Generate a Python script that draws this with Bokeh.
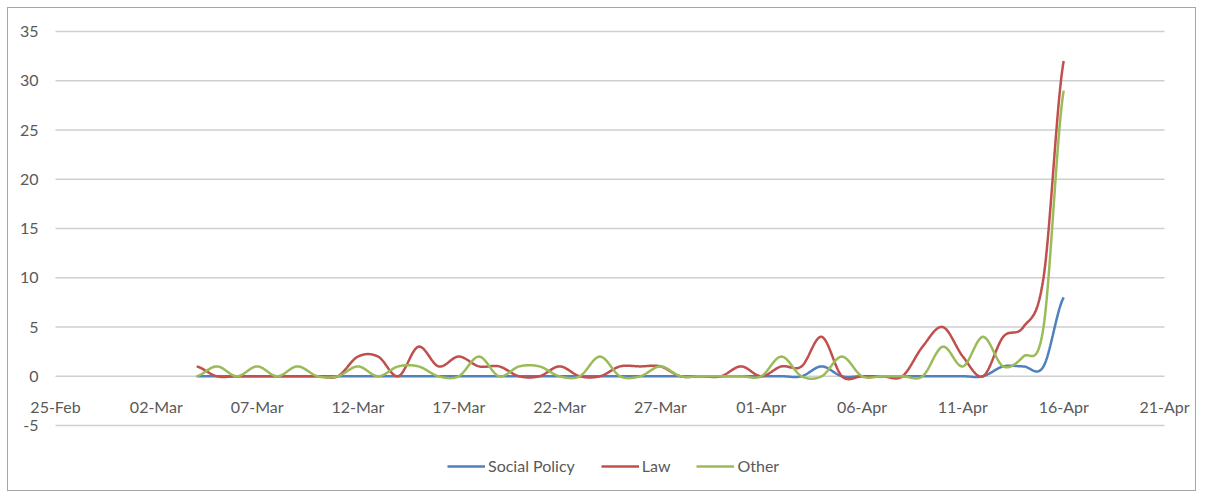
import numpy as np
import pandas as pd
from bokeh.plotting import figure
from bokeh.models import (Range1d, Legend, LegendItem, ColumnDataSource, LabelSet)
from bokeh.core.properties import value
from bokeh.embed import file_html
from bokeh.resources import INLINE

# ---- data (daily counts, 04-Mar .. 16-Apr) ----
dates = pd.date_range("2019-03-04", "2019-04-16", freq="D")
social_policy = [0, 0, 0, 0, 0, 0, 0, 0, 0, 0,
                 0, 0, 0, 0, 0, 0, 0, 0, 0, 0,
                 0, 0, 0, 0, 0, 0, 0, 0, 0, 0,
                 0, 1, 0, 0, 0, 0, 0, 0, 0, 0,
                 1, 1, 1, 8]
law = [1, 0, 0, 0, 0, 0, 0, 0, 2, 2,
       0, 3, 1, 2, 1, 1, 0, 0, 1, 0,
       0, 1, 1, 1, 0, 0, 0, 1, 0, 1,
       1, 4, 0, 0, 0, 0, 3, 5, 2, 0,
       4, 5, 10, 32]
other = [0, 1, 0, 1, 0, 1, 0, 0, 1, 0,
         1, 1, 0, 0, 2, 0, 1, 1, 0, 0,
         2, 0, 0, 1, 0, 0, 0, 0, 0, 2,
         0, 0, 2, 0, 0, 0, 0, 3, 1, 4,
         1, 2, 5, 29]
series_names = ["Social Policy", "Law", "Other"]
series_colors = ["#4F81BD", "#C0504D", "#9BBB59"]
tick_dates = pd.date_range("2019-02-25", "2019-04-21", freq="5D")
tick_labels = [d.strftime("%d-%b") for d in tick_dates]
y_ticks = [-5, 0, 5, 10, 15, 20, 25, 30, 35]
y_tick_labels = [str(v) for v in y_ticks]

# ---- layout constants (pixels, figure coordinates) ----
FONT = "Lato"
TXT = "#595959"
GRID = "#cfcfcf"
W, H = 1189, 484
B_LEFT, B_RIGHT, B_TOP, B_BOTTOM = 2, 2, 2, 3
AXIS_LEFT_PX, AXIS_RIGHT_PX = 47, 1156   # first / last date tick
AXIS_TOP_PX, AXIS_BOTTOM_PX = 23, 417    # top (35) / bottom (-5) value gridline


def to_ms(d):
    return np.asarray(pd.DatetimeIndex(d).values.astype("datetime64[ms]").astype(np.int64), dtype=float)


def smooth(xv, yv, n=24):
    """Excel-like smoothed line (Catmull-Rom through the data points)."""
    xv = np.asarray(xv, float)
    yv = np.asarray(yv, float)
    yp = np.concatenate([[yv[0]], yv, [yv[-1]]])
    t = np.linspace(0, 1, n, endpoint=False)
    h00 = 2 * t**3 - 3 * t**2 + 1
    h10 = t**3 - 2 * t**2 + t
    h01 = -2 * t**3 + 3 * t**2
    h11 = t**3 - t**2
    xs, ys = [], []
    for i in range(len(yv) - 1):
        y0, y1, y2, y3 = yp[i], yp[i + 1], yp[i + 2], yp[i + 3]
        m1 = (y2 - y0) / 2.0
        m2 = (y3 - y1) / 2.0
        ys.append(h00 * y1 + h10 * m1 + h01 * y2 + h11 * m2)
        xs.append(xv[i] + t * (xv[i + 1] - xv[i]))
    xs.append([xv[-1]])
    ys.append([yv[-1]])
    return np.concatenate(xs), np.concatenate(ys)


x_ms = to_ms(dates)
ticks_ms = to_ms(tick_dates)

# frame spans nearly the whole figure so that edge labels are not clipped
ms_per_px = (ticks_ms[-1] - ticks_ms[0]) / (AXIS_RIGHT_PX - AXIS_LEFT_PX)
x_start = ticks_ms[0] - (AXIS_LEFT_PX - B_LEFT) * ms_per_px
x_end = ticks_ms[-1] + ((W - B_RIGHT) - AXIS_RIGHT_PX) * ms_per_px
u_per_px = (y_ticks[-1] - y_ticks[0]) / (AXIS_BOTTOM_PX - AXIS_TOP_PX)
y_end = y_ticks[-1] + (AXIS_TOP_PX - B_TOP) * u_per_px
y_start = y_ticks[0] - ((H - B_BOTTOM) - AXIS_BOTTOM_PX) * u_per_px

p = figure(width=W, height=H,
           x_range=Range1d(x_start, x_end), y_range=Range1d(y_start, y_end),
           x_axis_location=None, y_axis_location=None,
           output_backend="svg", toolbar_location=None,
           min_border_left=B_LEFT, min_border_right=B_RIGHT, min_border_top=B_TOP,
           min_border_bottom=B_BOTTOM)
p.styles = {"border": "1px solid #a6a6a6", "margin-left": "7px", "margin-top": "7px"}
p.outline_line_color = None
p.background_fill_color = "white"
p.border_fill_color = "white"
for g in list(p.grid):
    g.visible = False
    g.grid_line_color = None

# horizontal gridlines spanning the date axis (the 0 line doubles as the axis line)
gsrc = ColumnDataSource(dict(x0=[ticks_ms[0]] * len(y_ticks), x1=[ticks_ms[-1]] * len(y_ticks),
                             y=y_ticks))
p.segment(x0="x0", y0="y", x1="x1", y1="y", source=gsrc, line_color=GRID, line_width=1.5)

# value-axis labels
ysrc = ColumnDataSource(dict(x=[ticks_ms[0]] * len(y_ticks), y=y_ticks, text=y_tick_labels))
p.add_layout(LabelSet(x="x", y="y", text="text", source=ysrc, x_offset=-17,
                      text_align="right", text_baseline="middle",
                      text_font=value(FONT), text_font_size="16px", text_color=TXT))

# date-axis labels, hanging below the 0 line
xsrc = ColumnDataSource(dict(x=ticks_ms, y=[0.0] * len(ticks_ms), text=tick_labels))
p.add_layout(LabelSet(x="x", y="y", text="text", source=xsrc,
                      y_offset=-21, text_align="center", text_baseline="top",
                      text_font=value(FONT), text_font_size="16px", text_color=TXT))

items = []
for name, vals, col in zip(series_names, [social_policy, law, other], series_colors):
    sx, sy = smooth(x_ms, vals)
    src = ColumnDataSource(dict(x=sx, y=sy))
    r = p.line("x", "y", source=src, line_color=col, line_width=2.5)
    items.append(LegendItem(label=name, renderers=[r]))

legend = Legend(items=items, orientation="horizontal", location=(437, 14),
                label_text_font=FONT, label_text_font_size="16px", label_text_color=TXT,
                glyph_width=38, glyph_height=16, label_standoff=3, spacing=26,
                border_line_color=None, background_fill_alpha=0, padding=4, margin=0)
p.add_layout(legend, "center")

open("out.html", "w").write(file_html(p, INLINE))
